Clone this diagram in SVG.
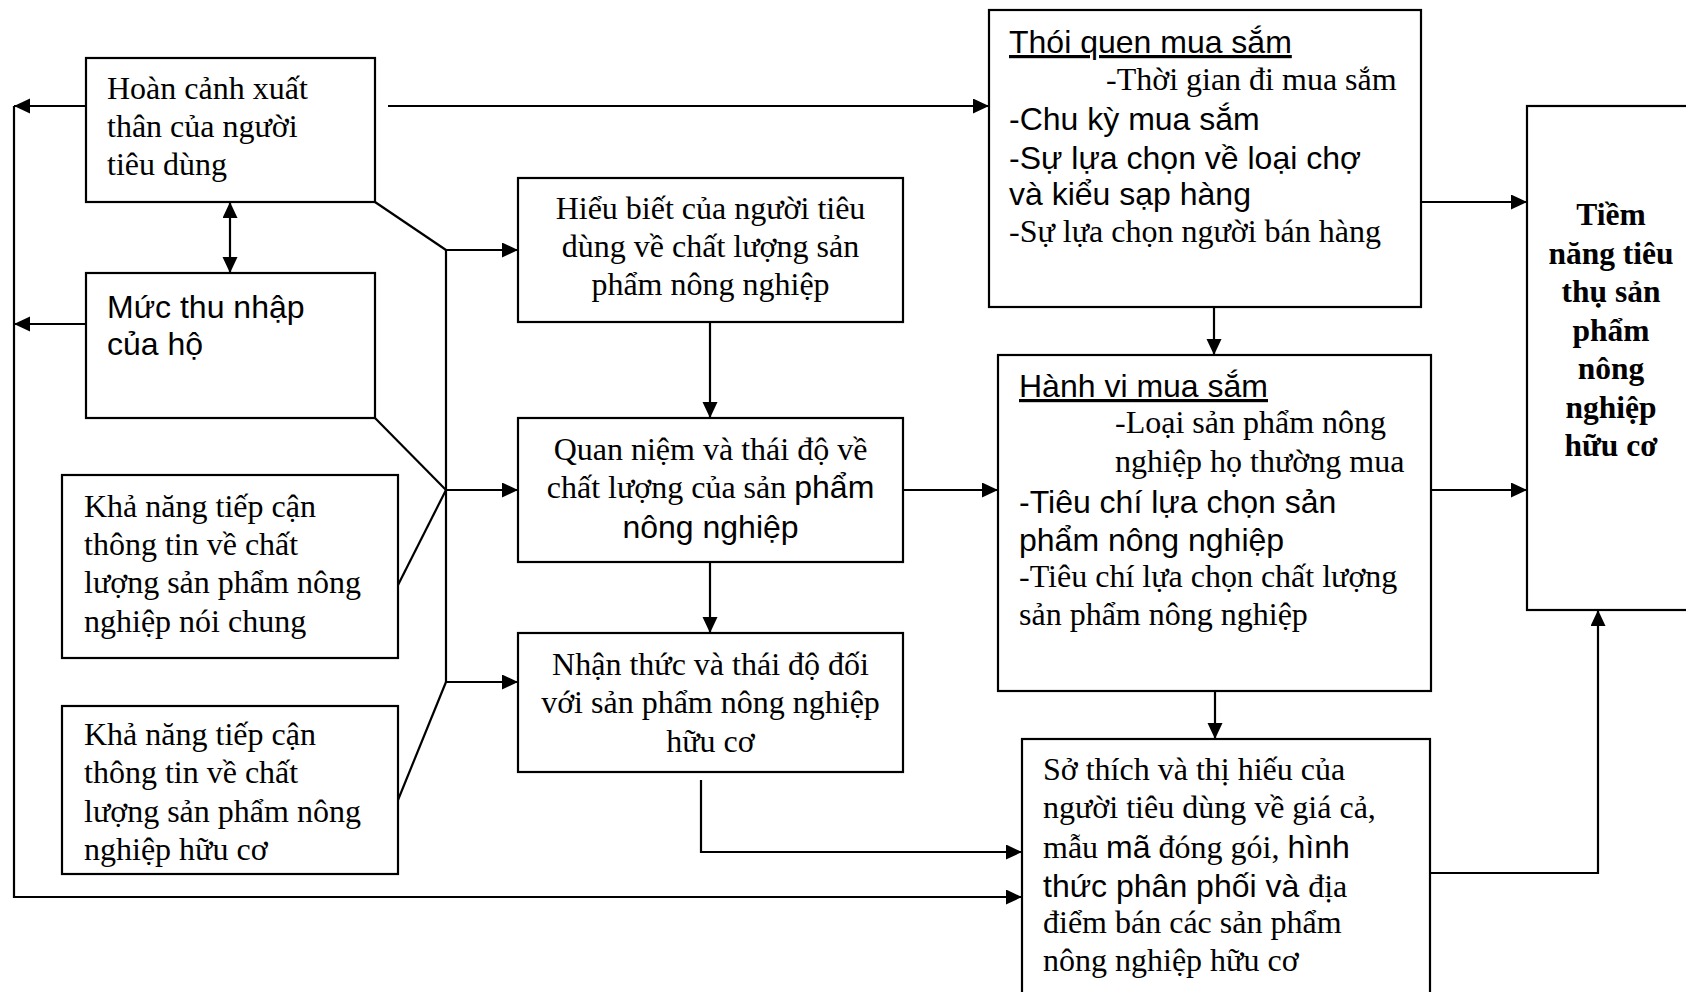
<svg xmlns="http://www.w3.org/2000/svg" width="1686" height="992" viewBox="0 0 1686 992">
<style>
.box{fill:#fff;stroke:#000;stroke-width:2.2}
.ser{font-family:"Liberation Serif","Times New Roman",serif;font-size:32px;fill:#000}
.san{font-family:"Liberation Sans",Arial,sans-serif;font-size:32px;fill:#000}
.bold{font-family:"Liberation Serif","Times New Roman",serif;font-size:31.5px;font-weight:bold;fill:#000}
.mid{text-anchor:middle}
.ul{text-decoration:underline}
.con{fill:none;stroke:#000;stroke-width:2.2}
.arr{marker-end:url(#ah)}
</style>
<defs>
<marker id="ah" markerUnits="userSpaceOnUse" markerWidth="17" markerHeight="16" refX="16" refY="7.5" orient="auto-start-reverse">
<path d="M0,0 L16,7.5 L0,15 z" fill="#000"/>
</marker>
</defs>
<rect width="1686" height="992" fill="#fff"/>

<g id="connectors">
<path class="con arr" d="M86,106 H14"/>
<path class="con arr" d="M86,324 H14"/>
<path class="con arr" d="M14,106 V897 H1022"/>
<path class="con arr" d="M388,106 H989"/>
<path class="con" d="M230,202 V273" marker-start="url(#ah)" marker-end="url(#ah)"/>
<path class="con" d="M375,202 L446,250"/>
<path class="con" d="M375,418 L446,490"/>
<path class="con" d="M398,585 L446,490"/>
<path class="con" d="M398,800 L446,682"/>
<path class="con" d="M446,250 V682"/>
<path class="con arr" d="M446,250 H518"/>
<path class="con arr" d="M446,490 H518"/>
<path class="con arr" d="M446,682 H518"/>
<path class="con arr" d="M710,322 V418"/>
<path class="con arr" d="M710,562 V633"/>
<path class="con arr" d="M701,780 V852 H1022"/>
<path class="con arr" d="M903,490 H998"/>
<path class="con arr" d="M1214,307 V355"/>
<path class="con arr" d="M1215,691 V739"/>
<path class="con arr" d="M1421,202 H1527"/>
<path class="con arr" d="M1431,490 H1527"/>
<path class="con arr" d="M1430,873 H1598 V610"/>
</g>

<g id="hoan-canh">
<rect class="box" x="86" y="58" width="289" height="144"/>
<text class="ser" x="107" y="99">Hoàn cảnh xuất</text>
<text class="ser" x="107" y="137">thân của người</text>
<text class="ser" x="107" y="175">tiêu dùng</text>
</g>

<g id="muc-thu-nhap">
<rect class="box" x="86" y="273" width="289" height="145"/>
<text class="san" x="107" y="318">Mức thu nhập</text>
<text class="san" x="107" y="355">của hộ</text>
</g>

<g id="kha-nang-1">
<rect class="box" x="62" y="475" width="336" height="183"/>
<text class="ser" x="84" y="517">Khả năng tiếp cận</text>
<text class="ser" x="84" y="555">thông tin về chất</text>
<text class="ser" x="84" y="593">lượng sản phẩm nông</text>
<text class="ser" x="84" y="632">nghiệp nói chung</text>
</g>

<g id="kha-nang-2">
<rect class="box" x="62" y="706" width="336" height="168"/>
<text class="ser" x="84" y="745">Khả năng tiếp cận</text>
<text class="ser" x="84" y="783">thông tin về chất</text>
<text class="ser" x="84" y="822">lượng sản phẩm nông</text>
<text class="ser" x="84" y="860">nghiệp hữu cơ</text>
</g>

<g id="hieu-biet">
<rect class="box" x="518" y="178" width="385" height="144"/>
<text class="ser mid" x="710.5" y="219">Hiểu biết của người tiêu</text>
<text class="ser mid" x="710.5" y="257">dùng về chất lượng sản</text>
<text class="ser mid" x="710.5" y="295">phẩm nông nghiệp</text>
</g>

<g id="quan-niem">
<rect class="box" x="518" y="418" width="385" height="144"/>
<text class="ser mid" x="710.5" y="460">Quan niệm và thái độ về</text>
<text class="ser mid" x="710.5" y="498">chất lượng của sản <tspan class="san">phẩm</tspan></text>
<text class="san mid" x="710.5" y="538">nông nghiệp</text>
</g>

<g id="nhan-thuc">
<rect class="box" x="518" y="633" width="385" height="139"/>
<text class="ser mid" x="710.5" y="675">Nhận thức và thái độ đối</text>
<text class="ser mid" x="710.5" y="713">với sản phẩm nông nghiệp</text>
<text class="ser mid" x="710.5" y="752">hữu cơ</text>
</g>

<g id="thoi-quen">
<rect class="box" x="989" y="10" width="432" height="297"/>
<text class="san ul" x="1009" y="53">Thói quen mua sắm</text>
<text class="ser" x="1106" y="90">-Thời gian đi mua sắm</text>
<text class="san" x="1009" y="130">-Chu kỳ mua sắm</text>
<text class="san" x="1009" y="169">-Sự lựa chọn về loại chợ</text>
<text class="san" x="1009" y="205">và kiểu sạp hàng</text>
<text class="ser" x="1009" y="242">-Sự lựa chọn người bán hàng</text>
</g>

<g id="hanh-vi">
<rect class="box" x="998" y="355" width="433" height="336"/>
<text class="san ul" x="1019" y="397">Hành vi mua sắm</text>
<text class="ser" x="1115" y="433">-Loại sản phẩm nông</text>
<text class="ser" x="1115" y="472">nghiệp họ thường mua</text>
<text class="san" x="1019" y="513">-Tiêu chí lựa chọn sản</text>
<text class="san" x="1019" y="551">phẩm nông nghiệp</text>
<text class="ser" x="1019" y="587">-Tiêu chí lựa chọn chất lượng</text>
<text class="ser" x="1019" y="625">sản phẩm nông nghiệp</text>
</g>

<g id="so-thich">
<rect class="box" x="1022" y="739" width="408" height="270"/>
<text class="ser" x="1043" y="780">Sở thích và thị hiếu của</text>
<text class="ser" x="1043" y="818">người tiêu dùng về giá cả,</text>
<text class="ser" x="1043" y="858">mẫu <tspan class="san">mã</tspan> đóng gói, <tspan class="san">hình</tspan></text>
<text class="san" x="1043" y="897">thức phân phối và <tspan class="ser">địa</tspan></text>
<text class="ser" x="1043" y="933">điểm bán các sản phẩm</text>
<text class="ser" x="1043" y="971">nông nghiệp hữu cơ</text>
</g>

<g id="tiem-nang">
<rect class="box" x="1527" y="106" width="200" height="504"/>
<text class="bold mid" x="1611" y="225">Tiềm</text>
<text class="bold mid" x="1611" y="263.5">năng tiêu</text>
<text class="bold mid" x="1611" y="302">thụ sản</text>
<text class="bold mid" x="1611" y="340.5">phẩm</text>
<text class="bold mid" x="1611" y="379">nông</text>
<text class="bold mid" x="1611" y="417.5">nghiệp</text>
<text class="bold mid" x="1611" y="456">hữu cơ</text>
</g>
</svg>
